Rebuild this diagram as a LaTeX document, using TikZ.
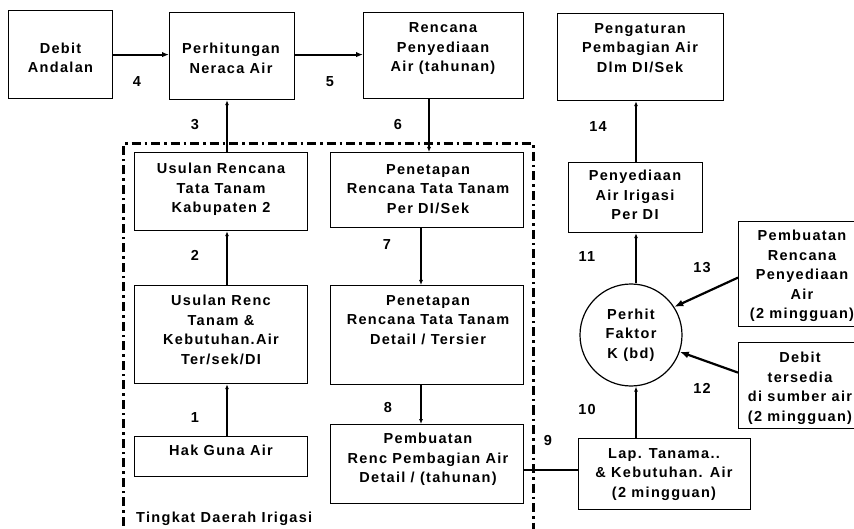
\documentclass[tikz,border=0pt]{standalone}
\usepackage{fontspec}
\newfontfamily\dfont{Liberation Sans}[LetterSpace=9]
\usetikzlibrary{arrows.meta}
\begin{document}
\begin{tikzpicture}[x=1pt,y=-1pt,
  box/.style={draw=black, line width=1.2pt, anchor=north west, inner sep=0pt},
  txt/.style={font=\dfont\bfseries\fontsize{14.5}{19.5}\selectfont, align=center, inner sep=0pt, anchor=north},
  num/.style={font=\dfont\bfseries\fontsize{14.5}{16}\selectfont, inner sep=0pt},
  arr/.style={line width=1.1pt, -{Latex[length=5pt,width=4pt]}},
  arrH/.style={line width=2pt, -{Latex[length=7pt,width=5.5pt]}},
  arrT/.style={line width=2.2pt, -{Latex[length=9pt,width=7pt]}},
  link/.style={line width=2.2pt},
  zone/.style={line width=3pt, dash pattern=on 9pt off 4pt on 2.5pt off 4pt}]
\useasboundingbox (0,0) rectangle (854,529);
\clip (0,0) rectangle (854,529);
\fill[white] (0,0) rectangle (854,529);

% irrigation-area boundary
\draw[zone] (123,545) -- (123,144) -- (533,144) -- (533,545);
\node[num, anchor=west] (zl) at (136,519) {Tingkat Daerah Irigasi};

% boxes
\node[box, minimum width=104, minimum height=88] (da) at (8,10) {};
\node[txt] (da-t) at (60.5,42.5) {Debit\\Andalan};

\node[box, minimum width=125, minimum height=87] (pn) at (169,12) {};
\node[txt] (pn-t) at (231,43) {Perhitungan\\Neraca Air};

\node[box, minimum width=160, minimum height=86] (rp) at (363,12) {};
\node[txt] (rp-t) at (443,22.5) {Rencana\\Penyediaan\\Air (tahunan)};

\node[box, minimum width=166, minimum height=87] (pg) at (557,13) {};
\node[txt] (pg-t) at (640,23) {Pengaturan\\Pembagian Air\\Dlm DI/Sek};

\node[box, minimum width=173, minimum height=78] (uk) at (134,152) {};
\node[txt] (uk-t) at (221,163) {Usulan Rencana\\Tata Tanam\\Kabupaten 2};

\node[box, minimum width=193, minimum height=75] (ps) at (330,152) {};
\node[txt] (ps-t) at (428,164) {Penetapan\\Rencana Tata Tanam\\Per DI/Sek};

\node[box, minimum width=173, minimum height=98] (ur) at (134,285) {};
\node[txt] (ur-t) at (221,295) {Usulan Renc\\Tanam \&\\Kebutuhan.Air\\Ter/sek/DI};

\node[box, minimum width=193, minimum height=99] (pd) at (330,285) {};
\node[txt] (pd-t) at (428,295) {Penetapan\\Rencana Tata Tanam\\Detail / Tersier};

\node[box, minimum width=173, minimum height=40] (hg) at (134,436) {};
\node[txt] (hg-t) at (221,445) {Hak Guna Air};

\node[box, minimum width=193, minimum height=79] (pb) at (330,424) {};
\node[txt] (pb-t) at (428,433) {Pembuatan\\Renc Pembagian Air\\Detail / (tahunan)};

\node[box, minimum width=134, minimum height=70] (pi) at (568,162) {};
\node[txt] (pi-t) at (635,170) {Penyediaan\\Air Irigasi\\Per DI};

\node[box, minimum width=172, minimum height=71] (lp) at (578,438) {};
\node[txt] (lp-t) at (664,448) {Lap. Tanama..\\\& Kebutuhan. Air\\(2 mingguan)};

\node[box, minimum width=128, minimum height=105] (pr) at (738,221) {};
\node[txt] (pr-t) at (802,230) {Pembuatan\\Rencana\\Penyediaan\\Air\\(2 mingguan)};

\node[box, minimum width=124, minimum height=86] (dt) at (738,342) {};
\node[txt] (dt-t) at (800,352) {Debit\\tersedia\\di sumber air\\(2 mingguan)};

\node[draw=black, line width=1.2pt, circle, minimum size=102, inner sep=0pt,
      font=\dfont\bfseries\fontsize{14.5}{19.5}\selectfont, align=center] (ck) at (631,335)
      {Perhit\\Faktor\\K (bd)};

% connector positions
\coordinate (c3) at (227,0);
\coordinate (c6) at (429,0);
\coordinate (c7) at (421,0);
\coordinate (c9) at (0,470);
\coordinate (c10) at (636,0);

% connectors
\draw[arrH] (da.east) -- (da.east -| pn.west);
\draw[arrH] (pn.east |- da.east) -- (rp.west |- da.east);
\draw[arr] (uk.north -| c3) -- (pn.south -| c3);
\draw[arr] (ur.north -| c3) -- (uk.south -| c3);
\draw[arr] (hg.north -| c3) -- (ur.south -| c3);
\draw[arr] (rp.south -| c6) -- (ps.north -| c6);
\draw[arr] (ps.south -| c7) -- (pd.north -| c7);
\draw[arr] (pd.south -| c7) -- (pb.north -| c7);
\draw[link] (pb.east |- c9) -- (lp.west |- c9);
\draw[arr] (lp.north -| c10) -- (ck.south -| c10);
\draw[arr] (ck.north -| c10) -- (pi.south -| c10);
\draw[arr] (pi.north -| c10) -- (pg.south -| c10);
\draw[arrT] ([yshift=-3.5pt]pr.west) -- (ck.33);
\draw[arrT] ([yshift=13pt]dt.west) -- (ck.-19);

% step numbers
\node[num] (n1) at (195,418) {1};
\node[num] (n2) at (195,255) {2};
\node[num] (n3) at (195,125) {3};
\node[num] (n4) at (137,82) {4};
\node[num] (n5) at (330,82) {5};
\node[num] (n6) at (398,125) {6};
\node[num] (n7) at (387,245) {7};
\node[num] (n8) at (388,408) {8};
\node[num] (n9) at (548,441) {9};
\node[num] (n10) at (587,410) {10};
\node[num] (n11) at (587,257) {11};
\node[num] (n12) at (702,388) {12};
\node[num] (n13) at (702,268) {13};
\node[num] (n14) at (598,127) {14};
\end{tikzpicture}
\end{document}
